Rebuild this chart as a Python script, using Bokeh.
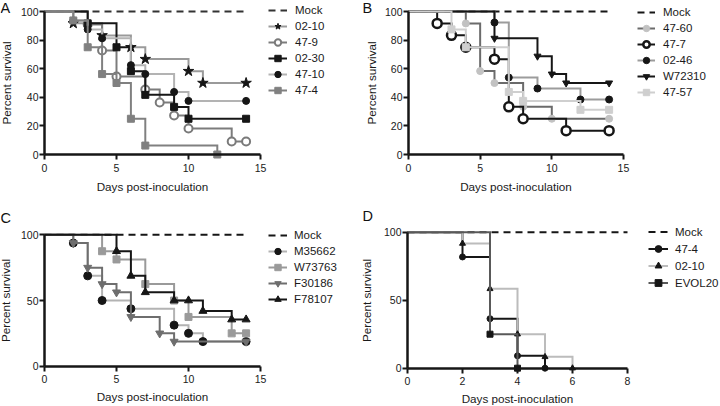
from bokeh.plotting import figure
from bokeh.models import Range1d, FixedTicker, Legend, LegendItem, Label
from bokeh.layouts import row, column
from bokeh.embed import file_html
from bokeh.resources import INLINE

FONT = "Liberation Sans"

# ---------------- data ----------------
# Panel A
A_MOCK_T = [0, 14]
A_MOCK_S = [100, 100]
A_0210_T = [0, 2, 4, 6, 7, 10, 11, 14]
A_0210_S = [100, 91.7, 83.3, 75, 66.7, 58.3, 50, 50]
A_479_T = [0, 3, 4, 5, 7, 8, 9, 10, 13, 14]
A_479_S = [100, 90.9, 72.7, 54.5, 45.5, 36.4, 27.3, 18.2, 9.1, 9.1]
A_0230_T = [0, 3, 5, 6, 7, 9, 10, 14]
A_0230_S = [100, 91.7, 75, 58.3, 41.7, 33.3, 25, 25]
A_4710_T = [0, 2, 3, 4, 6, 7, 9, 10, 14]
A_4710_S = [100, 93.75, 87.5, 81.25, 62.5, 56.25, 43.75, 37.5, 37.5]
A_474_T = [0, 2, 3, 4, 5, 6, 7, 12]
A_474_S = [100, 93.75, 75, 56.25, 50, 25, 6.25, 0]
A_XTICKS = [0, 5, 10, 15]
A_YTICKS = [0, 20, 40, 60, 80, 100]

# Panel B
B_MOCK_T = [0, 14]
B_MOCK_S = [100, 100]
B_4760_T = [0, 4, 5, 6, 8, 10, 14]
B_4760_S = [100, 91.67, 58.33, 50, 33.33, 25, 25]
B_477_T = [0, 2, 3, 4, 6, 7, 8, 11, 14]
B_477_S = [100, 91.67, 83.33, 75, 66.67, 33.33, 25, 16.67, 16.67]
B_0246_T = [0, 6, 7, 9, 12, 14]
B_0246_S = [100, 92.3, 53.85, 46.15, 38.46, 38.46]
B_W72310_T = [0, 6, 9, 10, 11, 14]
B_W72310_S = [100, 81.25, 68.75, 56.25, 50, 50]
B_4757_T = [0, 3, 4, 7, 8, 12, 14]
B_4757_S = [100, 87.5, 75, 43.75, 37.5, 31.25, 31.25]
B_XTICKS = [0, 5, 10, 15]
B_YTICKS = [0, 20, 40, 60, 80, 100]

# Panel C
C_MOCK_T = [0, 14]
C_MOCK_S = [100, 100]
C_M35662_T = [0, 2, 3, 4, 6, 9, 10, 11, 14]
C_M35662_S = [100, 93.75, 68.75, 50, 43.75, 31.25, 25, 18.75, 18.75]
C_W73763_T = [0, 4, 5, 7, 9, 10, 13, 14]
C_W73763_S = [100, 87.5, 81.25, 62.5, 50, 37.5, 25, 25]
C_F30186_T = [0, 2, 3, 4, 5, 6, 8, 9, 14]
C_F30186_S = [100, 93.75, 75, 62.5, 56.25, 37.5, 25, 18.75, 18.75]
C_F78107_T = [0, 5, 6, 7, 9, 10, 11, 13, 14]
C_F78107_S = [100, 87.5, 68.75, 56.25, 50, 50, 42, 35.5, 35.5]
C_XTICKS = [0, 5, 10, 15]
C_YTICKS = [0, 50, 100]

# Panel D
D_MOCK_T = [0, 8]
D_MOCK_S = [100, 100]
D_474_T = [0, 2, 3, 4, 5]
D_474_S = [100, 81.8, 36.4, 9.1, 0]
D_0210_T = [0, 2, 3, 4, 5, 6]
D_0210_S = [100, 91.67, 58.33, 25, 8.33, 0]
D_EVOL20_T = [0, 3, 4]
D_EVOL20_S = [100, 25, 0]
D_XTICKS = [0, 2, 4, 6, 8]
D_YTICKS = [0, 50, 100]

INK = "#161616"


def build(w, h, x0px, xper, y100px, y0px, xbound, xticks, yticks,
          ylab_standoff, xlab_standoff):
    ky = (y0px - y100px) / 100.0
    xs = -x0px / xper
    ye = 100 + y100px / ky
    p = figure(width=w, height=h,
               x_range=Range1d(xs, xs + w / xper),
               y_range=Range1d(ye - h / ky, ye),
               output_backend="svg", toolbar_location=None, title=None,
               min_border=0)
    p.min_border_left = 0
    p.min_border_right = 0
    p.min_border_top = 0
    p.min_border_bottom = 0
    p.outline_line_color = None
    p.xgrid.visible = False
    p.ygrid.visible = False
    p.background_fill_color = "white"
    p.border_fill_color = "white"
    xa = p.xaxis[0]
    ya = p.yaxis[0]
    for ax in (xa, ya):
        ax.fixed_location = 0
        ax.axis_line_width = 2.5
        ax.axis_line_color = INK
        ax.major_tick_line_width = 2
        ax.major_tick_line_color = INK
        ax.major_tick_in = 0
        ax.major_tick_out = 5
        ax.minor_tick_line_color = None
        ax.major_label_text_font = FONT
        ax.major_label_text_font_size = "10.5px"
        ax.major_label_text_color = "#1a1a1a"
        ax.axis_label_text_font = FONT
        ax.axis_label_text_font_size = "11.7px"
        ax.axis_label_text_font_style = "normal"
        ax.axis_label_text_color = "#1a1a1a"
    xa.bounds = (0, xbound)
    xa.ticker = FixedTicker(ticks=xticks, minor_ticks=[])
    xa.axis_label = "Days post-inoculation"
    xa.major_label_standoff = 4
    xa.axis_label_standoff = xlab_standoff
    ya.bounds = (0, 100)
    ya.ticker = FixedTicker(ticks=yticks, minor_ticks=[])
    ya.axis_label = "Percent survival"
    ya.major_label_standoff = 1
    ya.axis_label_standoff = ylab_standoff
    return p


def mock(p, t, s, color):
    r = p.line(t, s, line_color=color, line_width=2, line_dash="7 5")
    return [r]


def series(p, t, s, lcolor, marker, msize, mfill, mline, mlw=1.0):
    lr = p.step(t, s, mode="after", line_color=lcolor, line_width=2,
                line_join="miter")
    sr = p.scatter(t[1:], s[1:], marker=marker, size=msize,
                   fill_color=mfill, line_color=mline, line_width=mlw)
    return [lr, sr]


def add_legend(p, h, entries, left, top, gw, gh, standoff):
    items = [LegendItem(label=lab, renderers=rs) for lab, rs in entries]
    n = len(items)
    lh = n * gh
    leg = Legend(items=items, location=(left, h - top - lh),
                 orientation="vertical", glyph_width=gw, glyph_height=gh,
                 label_height=gh, spacing=0, padding=0, margin=0,
                 border_line_color=None, background_fill_alpha=0,
                 label_text_font=FONT, label_text_font_size="11.5px",
                 label_standoff=standoff, label_text_color="#1a1a1a")
    p.add_layout(leg)


def letter(p, h, text, x, top):
    p.add_layout(Label(x=x, y=h - top, x_units="screen", y_units="screen",
                       text=text, text_baseline="top", text_align="left",
                       text_font=FONT, text_font_size="14.5px",
                       text_color="#111111"))


W, H = 360, 203

# ---- Panel A ----
pa = build(W, H, 44, 14.4, 11, 154, 15, A_XTICKS, A_YTICKS, 5, 5)
ea = []
ea.append(("Mock", mock(pa, A_MOCK_T, A_MOCK_S, "#333333")))
ea.append(("02-10", series(pa, A_0210_T, A_0210_S, "#9a9a9a", "star", 11, INK, INK)))
ea.append(("47-9", series(pa, A_479_T, A_479_S, "#7c7c7c", "circle", 8, "white", "#7a7a7a", 2)))
ea.append(("02-30", series(pa, A_0230_T, A_0230_S, INK, "square", 7, INK, INK)))
ea.append(("47-10", series(pa, A_4710_T, A_4710_S, "#b3b3b3", "circle", 7, INK, INK)))
ea.append(("47-4", series(pa, A_474_T, A_474_S, "#808080", "square", 7, "#808080", "#808080")))
add_legend(pa, H, ea, 268, 2, 19, 16, 8)
letter(pa, H, "A", 0, -1)

# ---- Panel B ----
pb = build(W, H, 48, 14.33, 11, 154, 15, B_XTICKS, B_YTICKS, 4, 5)
eb = []
eb.append(("Mock", mock(pb, B_MOCK_T, B_MOCK_S, INK)))
eb.append(("47-60", series(pb, B_4760_T, B_4760_S, "#6b6b6b", "circle", 7, "#c2c2c2", "#c2c2c2")))
eb.append(("47-7", series(pb, B_477_T, B_477_S, INK, "circle", 9, "white", INK, 2.5)))
eb.append(("02-46", series(pb, B_0246_T, B_0246_S, "#9c9c9c", "circle", 7, INK, INK)))
eb.append(("W72310", series(pb, B_W72310_T, B_W72310_S, INK, "inverted_triangle", 7, INK, INK)))
eb.append(("47-57", series(pb, B_4757_T, B_4757_S, "#cfcfcf", "square", 7, "#cfcfcf", "#cfcfcf")))
add_legend(pb, H, eb, 277, 4, 18, 16, 8)
letter(pb, H, "B", 2, -1)

# ---- Panel C ----
pc = build(W, H, 44, 14.4, 31.3, 162.7, 15, C_XTICKS, C_YTICKS, 6, 3)
ec = []
ec.append(("Mock", mock(pc, C_MOCK_T, C_MOCK_S, INK)))
ec.append(("M35662", series(pc, C_M35662_T, C_M35662_S, "#b3b3b3", "circle", 8, INK, INK)))
ec.append(("W73763", series(pc, C_W73763_T, C_W73763_S, "#9a9a9a", "square", 7, "#9a9a9a", "#9a9a9a")))
ec.append(("F30186", series(pc, C_F30186_T, C_F30186_S, "#6e6e6e", "inverted_triangle", 8, "#6e6e6e", "#6e6e6e")))
ec.append(("F78107", series(pc, C_F78107_T, C_F78107_S, INK, "triangle", 8, INK, INK)))
add_legend(pc, H, ec, 268, 24, 19, 16, 7)
letter(pc, H, "C", 0, 6)

# ---- Panel D ----
pd_ = build(W, H, 47, 27.5, 28.7, 164.7, 8, D_XTICKS, D_YTICKS, 8, 3)
ed = []
ed.append(("Mock", mock(pd_, D_MOCK_T, D_MOCK_S, INK)))
ed.append(("47-4", series(pd_, D_474_T, D_474_S, INK, "circle", 6, INK, INK)))
ed.append(("02-10", series(pd_, D_0210_T, D_0210_S, "#bcbcbc", "triangle", 6, INK, INK)))
ed.append(("EVOL20", series(pd_, D_EVOL20_T, D_EVOL20_S, "#595959", "square", 6, INK, INK)))
add_legend(pd_, H, ed, 288, 20, 20, 17, 7)
letter(pd_, H, "D", 2, 4)

layout = column(row(pa, pb), row(pc, pd_))
open("out.html", "w").write(file_html(layout, INLINE))
